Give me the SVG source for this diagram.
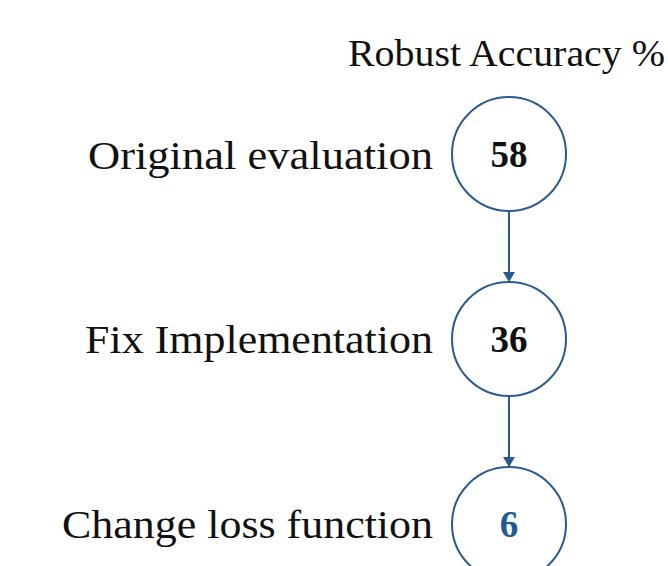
<svg xmlns="http://www.w3.org/2000/svg" width="668" height="566" viewBox="0 0 668 566">
<style>
.lbl{font-family:"Liberation Serif","DejaVu Serif",serif;font-size:39px;fill:#111}
.num{font-family:"Liberation Serif","DejaVu Serif",serif;font-size:37px;font-weight:bold;fill:#111;text-anchor:middle}
.node{fill:#fff;stroke:#2a5a8f;stroke-width:2}
</style>
<defs>
<marker id="ah2" viewBox="0 0 10 12" refX="10" refY="6" markerWidth="12" markerHeight="12" markerUnits="userSpaceOnUse" orient="auto">
<path d="M0,0 L10,6 L0,12 z" fill="#2a5a8f"/>
</marker>
</defs>
<rect width="668" height="566" fill="#fff"/>
<text class="lbl" x="348" y="66" textLength="317" lengthAdjust="spacingAndGlyphs" style="font-size:37px">Robust Accuracy %</text>
<g id="connectors">
<line x1="509" y1="211" x2="509" y2="282" stroke="#2a5a8f" stroke-width="2" marker-end="url(#ah2)"/>
<line x1="509" y1="396" x2="509" y2="467" stroke="#2a5a8f" stroke-width="2" marker-end="url(#ah2)"/>
</g>
<g id="n1">
<text class="lbl" x="88" y="169" textLength="345" lengthAdjust="spacingAndGlyphs">Original evaluation</text>
<circle class="node" cx="509" cy="154" r="57"/>
<text class="num" x="509" y="167">58</text>
</g>
<g id="n2">
<text class="lbl" x="85" y="353" textLength="348" lengthAdjust="spacingAndGlyphs">Fix Implementation</text>
<circle class="node" cx="509" cy="339" r="57"/>
<text class="num" x="509" y="352">36</text>
</g>
<g id="n3">
<text class="lbl" x="62" y="538" textLength="371" lengthAdjust="spacingAndGlyphs">Change loss function</text>
<circle class="node" cx="509" cy="524" r="57"/>
<text class="num" x="509" y="537" style="fill:#1f5a96">6</text>
</g>
</svg>
